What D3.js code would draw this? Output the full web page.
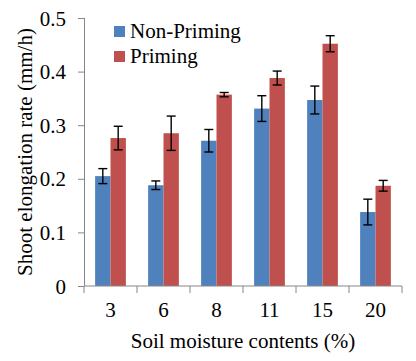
<!DOCTYPE html>
<html>
<head>
<meta charset="utf-8">
<script src="https://cdn.jsdelivr.net/npm/d3@7"></script>
<style>
  body { margin: 0; background: #fff; }
</style>
</head>
<body>
<svg id="chart" width="416" height="361"></svg>
<script>
const categories = ["3", "6", "8", "11", "15", "20"];
const seriesNames = ["Non-Priming", "Priming"];
const nonPriming = [0.205, 0.188, 0.271, 0.331, 0.347, 0.138];
const nonPrimingErr = [0.014, 0.008, 0.021, 0.024, 0.026, 0.024];
const priming = [0.276, 0.285, 0.357, 0.388, 0.452, 0.187];
const primingErr = [0.022, 0.032, 0.004, 0.013, 0.015, 0.010];
const yTicks = [0, 0.1, 0.2, 0.3, 0.4, 0.5];

const colors = ["#4F81BD", "#C0504D"];
const font = "'Liberation Serif', 'Times New Roman', serif";
const margin = {top: 18, right: 14, bottom: 75, left: 84};
const width = 416, height = 361;

const svg = d3.select("#chart");

const x = d3.scaleBand()
    .domain(categories)
    .range([margin.left, width - margin.right])
    .paddingInner(0.42)
    .paddingOuter(0.21);

const x1 = d3.scaleBand()
    .domain(seriesNames)
    .range([0, x.bandwidth()]);

const y = d3.scaleLinear()
    .domain([0, 0.5])
    .range([height - margin.bottom, margin.top]);

const data = categories.map((c, i) => ({
  cat: c,
  vals: [
    {name: seriesNames[0], v: nonPriming[i], e: nonPrimingErr[i]},
    {name: seriesNames[1], v: priming[i], e: primingErr[i]}
  ]
}));

// bars
const groups = svg.append("g").selectAll("g")
  .data(data).join("g")
  .attr("transform", d => "translate(" + x(d.cat) + ",0)");

groups.selectAll("rect")
  .data(d => d.vals).join("rect")
  .attr("x", d => x1(d.name))
  .attr("width", x1.bandwidth())
  .attr("y", d => y(d.v))
  .attr("height", d => y(0) - y(d.v))
  .attr("fill", (d, i) => colors[i]);

// error bars
const eb = groups.selectAll("g.err")
  .data(d => d.vals).join("g")
  .attr("class", "err")
  .attr("stroke", "#000")
  .attr("stroke-width", 1.4);
eb.append("line")
  .attr("x1", d => x1(d.name) + x1.bandwidth() / 2)
  .attr("x2", d => x1(d.name) + x1.bandwidth() / 2)
  .attr("y1", d => y(d.v + d.e))
  .attr("y2", d => y(d.v - d.e));
eb.selectAll("line.cap")
  .data(d => [[d, d.v + d.e], [d, d.v - d.e]]).join("line")
  .attr("class", "cap")
  .attr("x1", d => x1(d[0].name) + x1.bandwidth() / 2 - 4.5)
  .attr("x2", d => x1(d[0].name) + x1.bandwidth() / 2 + 4.5)
  .attr("y1", d => y(d[1]))
  .attr("y2", d => y(d[1]));

// y axis
const yAxis = svg.append("g")
  .attr("transform", "translate(" + margin.left + ",0)")
  .call(d3.axisLeft(y).tickValues(yTicks).tickSize(6).tickPadding(12)
    .tickFormat(d => d === 0 ? "0" : d3.format(".1f")(d)));
yAxis.attr("font-family", null).attr("font-size", null);
yAxis.selectAll("text").attr("dy", "0.34em");

// x axis
const xEdges = d3.range(categories.length + 1).map(i =>
  margin.left + i * (width - margin.right - margin.left) / categories.length);
const xAxis = svg.append("g")
  .attr("transform", "translate(0," + y(0) + ")");
xAxis.append("line")
  .attr("x1", margin.left).attr("x2", width - margin.right)
  .attr("stroke", "#868686");
xAxis.selectAll("line.tick")
  .data(xEdges).join("line")
  .attr("class", "tick")
  .attr("x1", d => d).attr("x2", d => d)
  .attr("y1", 0).attr("y2", 7)
  .attr("stroke", "#868686");
xAxis.selectAll("text")
  .data(categories).join("text")
  .attr("x", d => x(d) + x.bandwidth() / 2)
  .attr("y", 31)
  .attr("text-anchor", "middle")
  .text(d => d);

svg.selectAll(".domain, .tick line").attr("stroke", "#868686");
yAxis.select(".domain").attr("d", "M0.5," + y(0) + "V" + y(0.5));

// axis titles
svg.append("text")
  .attr("x", (margin.left + width - margin.right) / 2)
  .attr("y", 348)
  .attr("text-anchor", "middle")
  .text("Soil moisture contents (%)");

svg.append("text")
  .attr("transform", "translate(32," + 152 + ") rotate(-90)")
  .attr("text-anchor", "middle")
  .text("Shoot elongation rate (mm/h)");

// legend
const legend = svg.append("g").attr("transform", "translate(114,26)");
const li = legend.selectAll("g").data(seriesNames).join("g")
  .attr("transform", (d, i) => "translate(0," + i * 25 + ")");
li.append("rect").attr("width", 11).attr("height", 11)
  .attr("fill", (d, i) => colors[i]);
li.append("text").attr("x", 16).attr("y", 11.5)
  .text(d => d);

svg.selectAll("text")
  .style("font-family", font)
  .style("font-size", "21px")
  .style("fill", "#000");
</script>
</body>
</html>
